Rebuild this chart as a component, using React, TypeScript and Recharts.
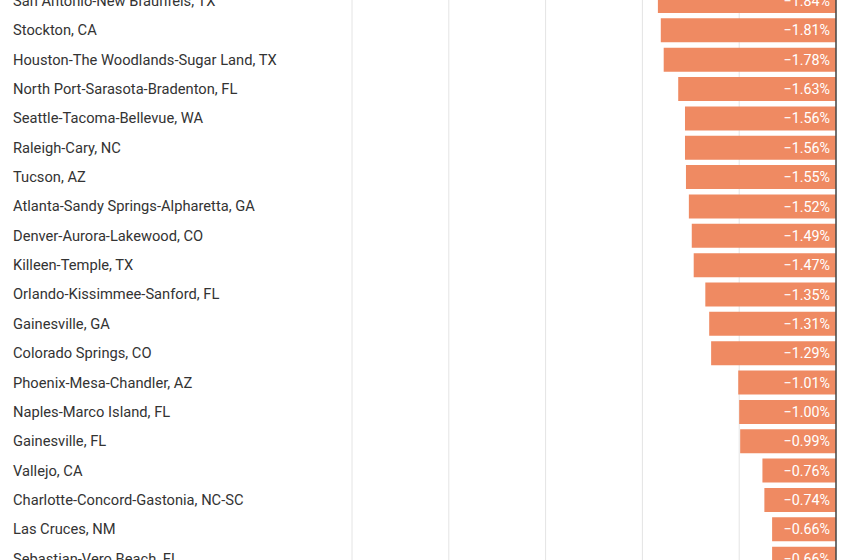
import { BarChart, Bar, XAxis, YAxis, CartesianGrid, ReferenceLine, LabelList } from "recharts";

const metros = [
  "San Antonio-New Braunfels, TX",
  "Stockton, CA",
  "Houston-The Woodlands-Sugar Land, TX",
  "North Port-Sarasota-Bradenton, FL",
  "Seattle-Tacoma-Bellevue, WA",
  "Raleigh-Cary, NC",
  "Tucson, AZ",
  "Atlanta-Sandy Springs-Alpharetta, GA",
  "Denver-Aurora-Lakewood, CO",
  "Killeen-Temple, TX",
  "Orlando-Kissimmee-Sanford, FL",
  "Gainesville, GA",
  "Colorado Springs, CO",
  "Phoenix-Mesa-Chandler, AZ",
  "Naples-Marco Island, FL",
  "Gainesville, FL",
  "Vallejo, CA",
  "Charlotte-Concord-Gastonia, NC-SC",
  "Las Cruces, NM",
  "Sebastian-Vero Beach, FL",
];

const changes = [
  -1.84, -1.81, -1.78, -1.63, -1.56, -1.56, -1.55, -1.52, -1.49, -1.47,
  -1.35, -1.31, -1.29, -1.01, -1.0, -0.99, -0.76, -0.74, -0.66, -0.66,
];

const xTicks = [-5, -4, -3, -2, -1, 0];

const data = metros.map((name, i) => ({ name, value: changes[i] }));

const fmt = (v: number) => (v < 0 ? "\u2212" : "") + Math.abs(v).toFixed(2) + "%";

function MetroTick({ y, payload }: any) {
  return (
    <text x={13} y={y} dy="0.36em" textAnchor="start" fontSize={14.7} fill="#333">
      {payload.value}
    </text>
  );
}

export default function App() {
  return (
    <div
      style={{
        position: "fixed",
        top: 0,
        left: 0,
        width: 850,
        height: 560,
        overflow: "hidden",
        background: "#fff",
        fontFamily: "Roboto, sans-serif",
      }}
    >
      <div style={{ position: "absolute", top: -13.7, left: 0 }}>
        <BarChart
          width={850}
          height={587}
          data={data}
          layout="vertical"
          margin={{ top: 0, right: 14, bottom: 0, left: 0 }}
        >
          <CartesianGrid vertical horizontal={false} stroke="#e4e4e4" />
          <XAxis type="number" domain={[-5, 0]} ticks={xTicks} hide />
          <YAxis
            type="category"
            dataKey="name"
            width={352}
            axisLine={false}
            tickLine={false}
            interval={0}
            tick={<MetroTick />}
          />
          <Bar dataKey="value" fill="#ef8a62" barSize={24} isAnimationActive={false}>
            <LabelList
              dataKey="value"
              position="insideLeft"
              offset={6}
              fill="#fff"
              fontSize={14.3}
              formatter={(v: any) => fmt(Number(v))}
            />
          </Bar>
          <ReferenceLine x={0} stroke="#444" strokeWidth={1.5} />
        </BarChart>
      </div>
    </div>
  );
}
